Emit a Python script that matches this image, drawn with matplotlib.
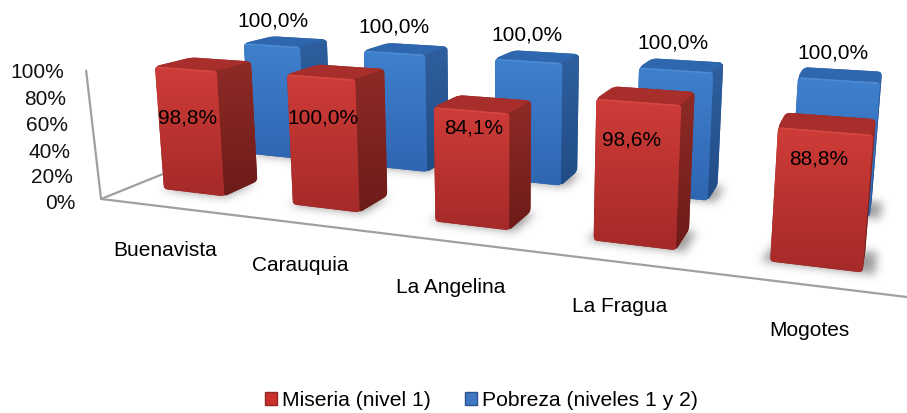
import numpy as np
import matplotlib
matplotlib.use("Agg")
import matplotlib.pyplot as plt
from matplotlib.path import Path
from matplotlib.patches import PathPatch, Patch
from matplotlib.colors import to_rgb

categories = ["Buenavista", "Carauquia", "La Angelina", "La Fragua", "Mogotes"]
miseria = [98.8, 100.0, 84.1, 98.6, 88.8]
pobreza = [100.0, 100.0, 100.0, 100.0, 100.0]
y_ticks = [0, 20, 40, 60, 80, 100]

# label anchors in pixels
mis_lab = [(188, 118), (323, 118), (474, 128), (632, 140), (819, 159)]
pob_lab = [(273, 21), (394, 27), (527, 35), (673, 43), (833, 53)]
cat_lab = [(165, 251), (300, 266), (451, 288), (620, 307), (809, 331)]

# camera fitted on the bar corners: (category, depth, share) -> pixels
P = np.array([[113.6, 116.741, -12.975, 211.262],
              [5.60333, -15.0906, -124.324, 186.043],
              [-0.0466963, 0.127925, -0.0258, 1.0]])
half_w = 0.24
half_d = 0.19
W, H = 907, 414

plt.rcParams['font.family'] = ['Liberation Sans', 'DejaVu Sans']


def project(x, y, z):
    h = P @ np.array([x, y, z, 1.0])
    return h[0] / h[2], h[1] / h[2]


def rounded(pts, r=4.0):
    pts = np.array(pts, float)
    n = len(pts)
    verts, codes = [], []
    for i in range(n):
        p, a, b = pts[i], pts[i - 1], pts[(i + 1) % n]
        u = (a - p) / np.linalg.norm(a - p)
        v = (b - p) / np.linalg.norm(b - p)
        verts += [p + u * r, p, p + v * r]
        codes += [Path.LINETO if i else Path.MOVETO, Path.CURVE3, Path.CURVE3]
    verts.append(verts[0])
    codes.append(Path.CLOSEPOLY)
    return Path(verts, codes)


def grad_face(ax, pts, c_top, c_bot, r=3.0):
    path = rounded(pts, r)
    xs, ys = zip(*pts)
    t = np.linspace(0, 1, 64)[:, None]
    img = (1 - t)[..., None] * np.array(to_rgb(c_top)) + t[..., None] * np.array(to_rgb(c_bot))
    im = ax.imshow(img, extent=(min(xs), max(xs), max(ys), min(ys)), aspect='auto', zorder=ax.zo,
                   interpolation='bilinear')
    im.set_clip_path(PathPatch(path, transform=ax.transData))
    ax.zo += 0.01


def bar(ax, c, s, val, col):
    v = val / 100.0
    x0, x1 = c - half_w, c + half_w
    y0, y1 = s - half_d, s + half_d
    ftl, ftr = project(x0, y0, v), project(x1, y0, v)
    fbl, fbr = project(x0, y0, 0), project(x1, y0, 0)
    btl, btr = project(x0, y1, v), project(x1, y1, v)
    bbr = project(x1, y1, 0)
    ax.add_patch(PathPatch(rounded([fbl, fbr, bbr, btr, btl, ftl], 5), fc=col['side'][0], ec='none', zorder=ax.zo))
    ax.zo += 0.01
    grad_face(ax, [fbr, bbr, btr, ftr], col['side'][0], col['side'][1])
    ax.add_patch(PathPatch(rounded([ftl, ftr, btr, btl], 4), fc=col['top'], ec='none', zorder=ax.zo))
    ax.zo += 0.01
    grad_face(ax, [ftl, ftr, fbr, fbl], col['front'][0], col['front'][1])
    # light bevel along the upper front edge
    ax.plot([ftl[0] + 3, ftr[0] - 3], [ftl[1] + 1, ftr[1] + 1], color=col['bevel'], lw=1.0, alpha=0.4,
            zorder=ax.zo, solid_capstyle='round')
    ax.zo += 0.01


def shadows(ax):
    yy, xx = np.mgrid[0:H, 0:W]
    grid = np.c_[xx.ravel() + 0.5, yy.ravel() + 0.5]
    mask = np.zeros((H, W))
    for c in range(len(categories)):
        for s in (0, 1):
            k = 0.015 + 0.012 * c
            quad = [project(c - half_w - k * 0.8, s - half_d - 0.01, 0), project(c + half_w + k, s - half_d - 0.01, 0),
                    project(c + half_w + k, s + half_d - 0.03, 0), project(c - half_w, s + half_d - 0.03, 0)]
            mask[Path(quad).contains_points(grid).reshape(H, W)] = 1
    win = np.exp(-0.5 * (np.arange(-14, 15) / 4.5) ** 2)
    win /= win.sum()
    for axis in (0, 1):
        mask = np.apply_along_axis(lambda m: np.convolve(m, win, mode='same'), axis, mask)
    rgba = np.zeros((H, W, 4))
    rgba[..., :3] = 0.3
    rgba[..., 3] = mask * 0.55
    ax.imshow(rgba, extent=(0, W, H, 0), aspect='auto', zorder=1.5)


red = {'front': ('#cf3c38', '#a52a28'), 'side': ('#8e2a26', '#6d1c1a'), 'top': '#a82e2b', 'bevel': '#e2605a'}
blue = {'front': ('#3f80cd', '#2f66b2'), 'side': ('#2f5f9f', '#214c86'), 'top': '#2f67ae', 'bevel': '#6aa0de'}

fig = plt.figure(figsize=(W / 100, H / 100), dpi=100)
ax = fig.add_axes([0, 0, 1, 1])
ax.zo = 3

shadows(ax)

# wall and floor lines
cx, cy = -0.477, -0.518
wall = [project(cx, cy, 0), project(cx - 0.03, cy, 1.0)]
front = [project(cx, cy, 0), project(4.463, -0.467, 0)]
side = [project(cx, cy, 0), project(-0.489, 0.115, 0)]
for seg in (wall, front, side):
    ax.plot(*zip(*seg), color='#a0a0a0', lw=1.6, zorder=2, solid_capstyle='round')

for c, v in enumerate(pobreza):
    bar(ax, c, 1, v, blue)
for c, v in enumerate(miseria):
    bar(ax, c, 0, v, red)

fs = 15
for t in y_ticks:
    px, py = project(cx, cy, t / 100.0)
    ax.text(px - 26, py + 1 + (100 - t) * 0.025, "%d%%" % t, ha='right', va='center', fontsize=fs, color='#111111', zorder=9)
for c, v in enumerate(miseria):
    ax.text(*mis_lab[c], ("%.1f%%" % v).replace('.', ','), ha='center', va='center', fontsize=fs, zorder=9)
for c, v in enumerate(pobreza):
    ax.text(*pob_lab[c], ("%.1f%%" % v).replace('.', ','), ha='center', va='center', fontsize=fs, zorder=9)
for c, name in enumerate(categories):
    ax.text(*cat_lab[c], name, ha='center', va='center', fontsize=fs, zorder=9)

handles = [Patch(fc='#c9302c', ec='#8e2a26', label='Miseria (nivel 1)'),
           Patch(fc='#3f78c0', ec='#2a5590', label='Pobreza (niveles 1 y 2)')]
ax.legend(handles=handles, ncol=2, frameon=False, fontsize=15.2, loc='center', bbox_to_anchor=(481.5 / W, 1 - 401 / H),
          bbox_transform=ax.transAxes, handlelength=0.57, handleheight=0.57, handletextpad=0.24, columnspacing=1.6,
          borderpad=0, borderaxespad=0)

ax.set_xlim(0, W)
ax.set_ylim(H, 0)
ax.axis('off')
fig.savefig("out.png", dpi=100)
